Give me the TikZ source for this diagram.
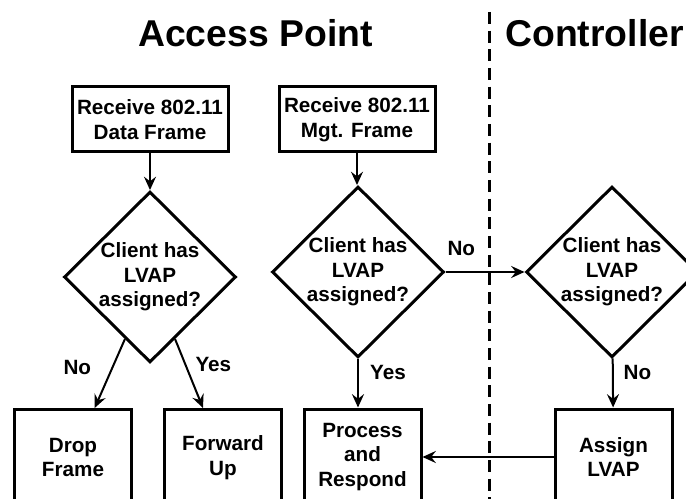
\documentclass[tikz,border=0pt]{standalone}
\usepackage{fontspec}
\setmainfont{Liberation Sans}
\usetikzlibrary{shapes.geometric,arrows.meta}

\begin{document}
\begin{tikzpicture}[x=0.75pt,y=-0.75pt,
    font=\bfseries\fontsize{15.5}{18.5}\selectfont,
    heading/.style={font=\bfseries\fontsize{28}{32}\selectfont},
    block/.style={draw,line width=2.25pt,align=center,inner sep=0pt},
    decision/.style={draw,diamond,line width=2.25pt,align=center,inner sep=0pt,
        minimum width=129pt,minimum height=124.5pt},
    flow/.style={line width=1.5pt,-{Stealth[length=10pt,width=9pt,inset=3.5pt]}}]
    \useasboundingbox (0,0) rectangle (686,499);

    % Headings
    \node [heading] (ap) at (255.5,33) {Access Point};
    \node [heading] (ctrl) at (594.5,33) {Controller};

    % Boundary between access point and controller
    \coordinate (splittop) at (489,12);
    \coordinate (splitbot) at (489,499);
    \draw [line width=2.25pt,dash pattern=on 9pt off 5pt] (splittop) -- (splitbot);

    % Incoming frames
    \node [block,minimum width=117pt,minimum height=48.75pt] (data) at (150,119.5) {Receive 802.11\\Data Frame};
    \node [block,minimum width=117pt,minimum height=48.75pt] (mgt) at (357,119.5) {Receive 802.11\\Mgt. Frame};

    % Decisions
    \node [decision] (dataq) at (150,277) {Client has\\LVAP\\assigned?};
    \node [decision] (mgtq) at (358,272) {Client has\\LVAP\\assigned?};
    \node [decision] (ctrlq) at (612,272) {Client has\\LVAP\\assigned?};

    % Actions
    \node [block,anchor=north,minimum width=87.75pt,minimum height=72pt] (drop) at (73,408) {Drop\\Frame};
    \node [block,anchor=north,minimum width=87.75pt,minimum height=72pt] (fwd) at (223,408) {Forward\\Up};
    \node [block,anchor=north,minimum width=87.75pt,minimum height=72pt] (proc) at (362.5,407.5) {Process\\and\\Respond};
    \node [block,anchor=north,minimum width=87.75pt,minimum height=72pt] (assign) at (613.5,407.5) {Assign\\LVAP};

    % Arrows
    \draw [flow] (data) -- (data |- dataq.north);
    \draw [flow] (mgt) -- (mgt |- mgtq.north);
    \draw [flow] (dataq.248) -- node[pos=0.41,left=12pt] {No} (drop);
    \draw [flow] (dataq.292) -- node[pos=0.37,right=3.5pt] {Yes} (fwd);
    \draw [flow] (mgtq.south) -- node[pos=0.28,right=5pt] {Yes} (mgtq.south |- proc.north);
    \draw [flow] (mgtq) -- node[pos=0.2,above=8pt] {No} (ctrlq);
    \draw [flow] (ctrlq) -- node[pos=0.28,right=4pt] {No} (assign);
    \draw [flow] (assign) -- (proc);
\end{tikzpicture}
\end{document}
